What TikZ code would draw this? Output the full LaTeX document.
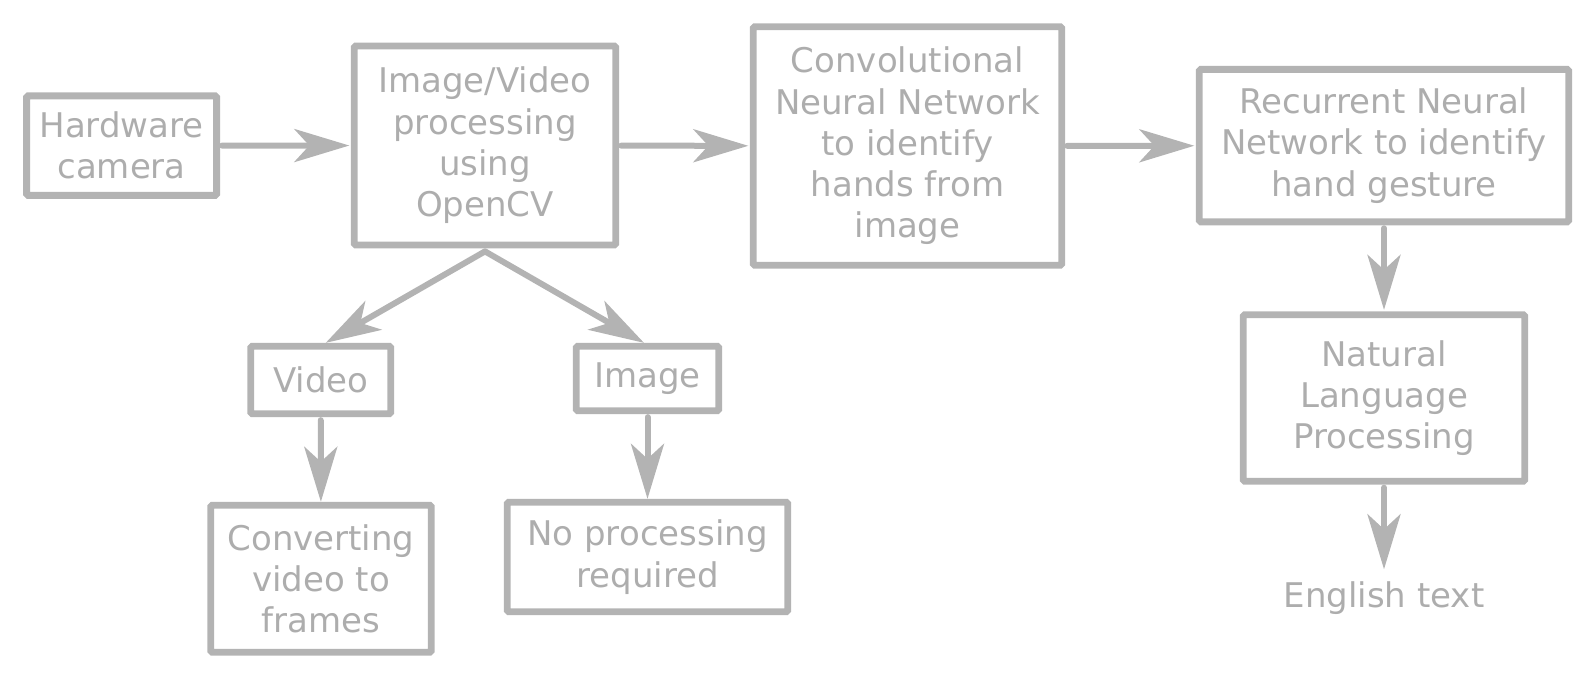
\documentclass[tikz,border=0pt]{standalone}
\usepackage{fontspec}
\setmainfont{DejaVu Sans}
\usetikzlibrary{arrows.meta,calc}
\definecolor{lg}{HTML}{B3B3B3}
\definecolor{tg}{HTML}{ADADAD}
\begin{document}
\begin{tikzpicture}[x=1pt,y=-1pt,
  box/.style={draw=lg,line width=6.8pt,rounded corners=1.5pt,align=center,text=tg,
    font=\fontsize{34}{41.3}\selectfont,inner sep=0pt},
  lbl/.style={align=center,text=tg,font=\fontsize{34}{41.3}\selectfont,inner sep=0pt},
  arr/.style={draw=lg,line width=6pt,line cap=round,
    -{Stealth[length=55pt,width=33pt,inset=15pt]}}]
\useasboundingbox (0,0) rectangle (1596,680);
\node[box,minimum width=190pt,minimum height=99.5pt] (hw) at (121.6,145.6) {Hardware\\camera};
\node[box,minimum width=261.5pt,minimum height=199pt] (iv) at (485,145.5) {Image/Video\\processing\\using\\OpenCV};
\node[box,minimum width=308.5pt,minimum height=238.5pt] (cnn) at (907.5,146) {Convolutional\\Neural Network\\to identify\\hands from\\image};
\node[box,minimum width=369.5pt,minimum height=152.5pt] (rnn) at (1384,145.6) {Recurrent Neural\\Network to identify\\hand gesture};
\node[box,minimum width=281.5pt,minimum height=166.5pt] (nlp) at (1384,398) {Natural\\Language\\Processing};
\node[box,minimum width=140pt,minimum height=67.5pt] (video) at (320.7,380) {Video};
\node[box,minimum width=142.5pt,minimum height=64.5pt] (image) at (647.5,378.5) {Image};
\node[box,minimum width=220.5pt,minimum height=147pt] (conv) at (321,578.7) {Converting\\video to\\frames};
\node[box,minimum width=280.5pt,minimum height=109.5pt] (noproc) at (647.5,557) {No processing\\required};
\node[lbl,anchor=base] (eng) at (1384,607.3) {English text};

\draw[arr,shorten <=2pt,shorten >=1.5pt] (hw) -- (iv);
\draw[arr,shorten <=2pt,shorten >=1.5pt] (iv) -- (cnn);
\draw[arr,shorten <=2pt,shorten >=1.5pt] (cnn) -- (rnn);
\draw[arr] ([yshift=-3pt]iv.south) -- ([xshift=5pt]video.north);
\draw[arr] ([yshift=-3pt]iv.south) -- ([xshift=-3.5pt]image.north);
\draw[arr,shorten <=3pt] (video) -- (conv);
\draw[arr,shorten <=3pt] (image.south) -- (noproc.north);
\draw[arr,shorten <=3pt,shorten >=1.5pt] (rnn) -- (nlp);
\draw[arr,shorten <=3pt] (nlp.south) -- ([yshift=12pt]eng.north);
\end{tikzpicture}
\end{document}
